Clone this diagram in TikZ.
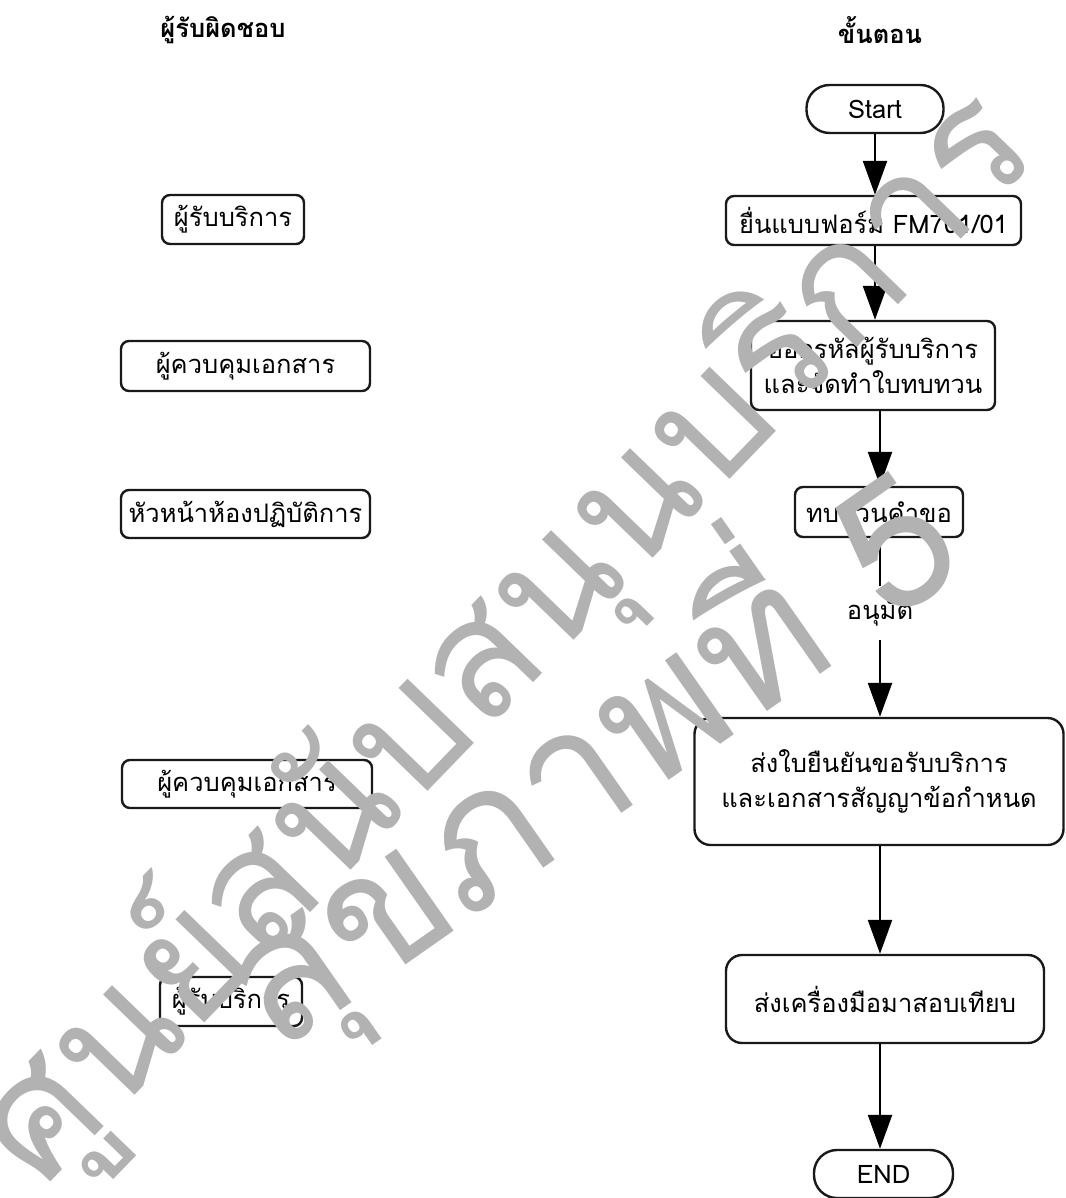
\documentclass[tikz,border=0pt]{standalone}
\usepackage{fontspec}
\setmainfont[Script=Thai]{Loma}
\usetikzlibrary{arrows.meta}

\tikzset{
  txt/.style={font=\fontsize{25.5}{35}\selectfont, text=black},
  box/.style={txt, draw=black!90, line width=2.4pt, rounded corners=8pt,
              align=center, inner sep=0pt, fill=white},
  bigbox/.style={box, rounded corners=16pt},
  term/.style={box, rounded corners=23pt},
  head/.style={font=\fontsize{25.5}{30}\selectfont\bfseries, text=black},
  flow/.style={line width=2.4pt, draw=black,
               -{Triangle[width=24pt,length=34pt]}},
  plain/.style={line width=2.4pt, draw=black},
  wm/.style={text=black!30, inner sep=0pt}
}

\begin{document}
\begin{tikzpicture}[x=1pt,y=-1pt]
\useasboundingbox (0,0) rectangle (1065,1198);

% column headings
\node[head] (hresp) at (223,30) {ผู้รับผิดชอบ};
\node[head] (hstep) at (880,30) {ขั้นตอน};

% responsible persons
\node[box, minimum width=142pt, minimum height=49pt] (r1) at (233,219.5) {ผู้รับบริการ};
\node[box, minimum width=249pt, minimum height=50pt] (r2) at (245.5,366) {ผู้ควบคุมเอกสาร};
\node[box, minimum width=249pt, minimum height=48pt] (r3) at (245.5,514) {หัวหน้าห้องปฏิบัติการ};
\node[box, minimum width=250pt, minimum height=48pt] (r4) at (247,784) {ผู้ควบคุมเอกสาร};
\node[box, minimum width=142pt, minimum height=49pt] (r5) at (231,1001.5) {ผู้รับบริการ};

% process steps
\node[term, minimum width=137pt, minimum height=48pt] (start) at (875,109) {Start};
\node[box, minimum width=295pt, minimum height=49pt] (s1) at (873.5,220.5) {ยื่นแบบฟอร์ม FM701/01};
\node[box, minimum width=244pt, minimum height=89pt] (s2) at (873,365.5)
  {ออกรหัสผู้รับบริการ\\และจัดทำใบทบทวน};
\node[box, minimum width=168pt, minimum height=50pt] (s3) at (879,512) {ทบทวนคำขอ};
\node[txt, inner sep=0pt, minimum height=54pt] (ok) at (880,613) {อนุมัติ};
\node[bigbox, minimum width=369pt, minimum height=127pt] (s4) at (879,781.5)
  {ส่งใบยืนยันขอรับบริการ\\และเอกสารสัญญาข้อกำหนด};
\node[bigbox, minimum width=318pt, minimum height=88pt] (s5) at (885,999) {ส่งเครื่องมือมาสอบเทียบ};
\node[term, minimum width=139pt, minimum height=48pt] (stop) at (883.5,1174) {END};

% connectors
\draw[flow] (start.south) -- (start.south |- s1.north);
\draw[flow] (start.south |- s1.south) -- (start.south |- s2.north);
\draw[flow] (ok.north |- s2.south) -- (ok.north |- s3.north);
\draw[plain] (ok.north |- s3.south) -- (ok.north);
\draw[flow] (ok.south) -- (ok.south |- s4.north);
\draw[flow] (s4.south -| ok.south) -- (ok.south |- s5.north);
\draw[flow] (ok.south |- s5.south) -- (ok.south |- stop.north);

% watermark lettering
\node[wm, rotate=46, font=\fontsize{166}{170}\selectfont] (wm1) at (505,638) {ศูนย์สนับสนุนบริการ};
\node[wm, rotate=35, font=\fontsize{180}{186}\selectfont] (wm2) at (585,755) {สุขภาพที่ 5};
\end{tikzpicture}
\end{document}
